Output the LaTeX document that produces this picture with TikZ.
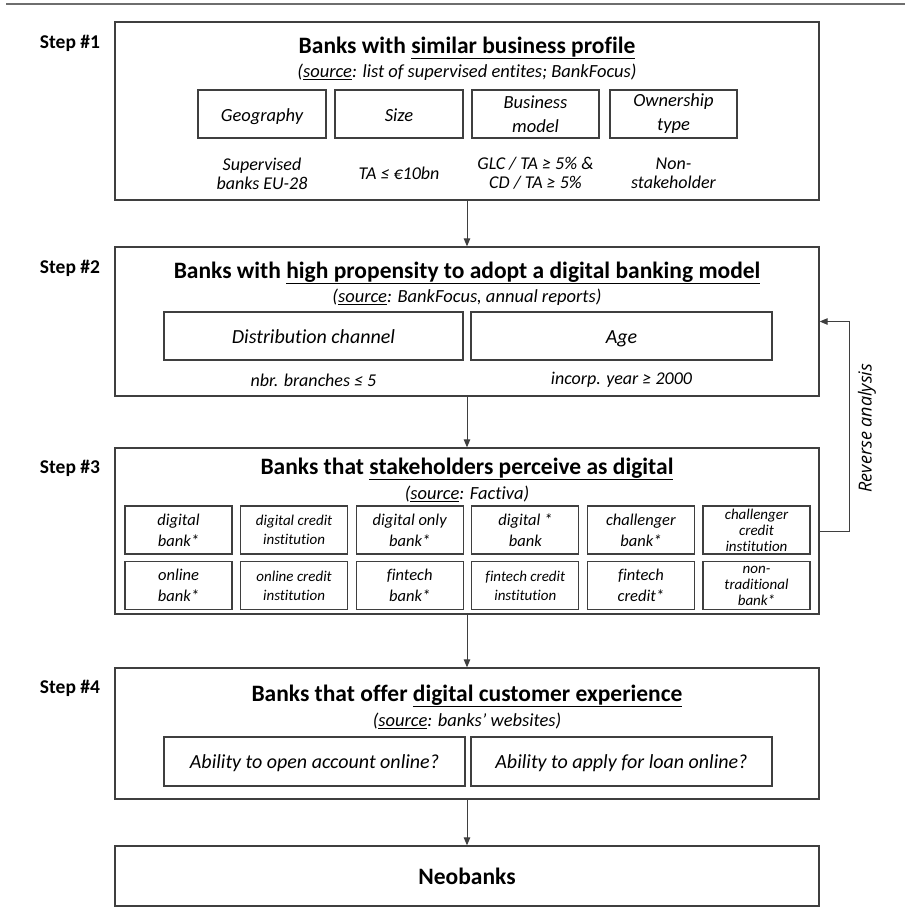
\documentclass[tikz,border=0pt]{standalone}
\usepackage{fontspec}
\setmainfont{Carlito}[Ligatures=NoCommon]
\newfontfamily\revfont{Open Sans}
\usetikzlibrary{arrows.meta}
\definecolor{boxgray}{HTML}{3F3F3F}
\definecolor{rulegray}{HTML}{6E6E6E}

\newcommand{\headfont}{\fontsize{23.5}{28}\selectfont\bfseries}
\newcommand{\srcfont}{\fontsize{18.5}{22}\selectfont\itshape}
\newcommand{\critfont}{\fontsize{18.5}{24}\selectfont\itshape}
\newcommand{\bigcritfont}{\fontsize{20}{24}\selectfont\itshape}
\newcommand{\valfont}{\fontsize{18}{19}\selectfont\itshape}
\newcommand{\cellfont}{\fontsize{16.5}{21}\selectfont\itshape}
\newcommand{\tightfont}{\fontsize{15}{19}\selectfont\itshape}
\newcommand{\threefont}{\fontsize{15}{16}\selectfont\itshape}

\begin{document}
\begin{tikzpicture}[x=1pt, y=-1pt, >={Triangle[length=8pt,width=6.5pt]},
    stepbox/.style={draw=boxgray, line width=1.3pt, minimum width=704pt, inner sep=0pt},
    critbox/.style={draw=boxgray, line width=1.1pt, inner sep=0pt, align=center, font=\critfont},
    oneline/.style={text height=17pt, text depth=3pt},
    cellbox/.style={draw=boxgray, line width=1.1pt, inner sep=0pt, align=center,
      minimum width=107pt, minimum height=48pt},
    crittext/.style={align=center, font=\valfont, inner sep=0pt},
    steplabel/.style={font=\fontsize{19.5}{22}\selectfont\bfseries, inner sep=0pt},
    headline/.style={font=\headfont, inner sep=0pt},
    srcline/.style={font=\srcfont, inner sep=0pt},
    flow/.style={draw=boxgray, line width=1pt, ->}]
  \useasboundingbox (0,0) rectangle (911,921);
  \draw[rulegray, line width=2pt] (6,4) -- (905,4);

  % step 1
  \node[steplabel] (lbl1) at (70,43) {Step \#1};
  \node[stepbox, minimum height=178pt] (s1) at (467,111) {};
  \node[headline] (t1) at (467,48) {Banks with \underline{similar business profile}};
  \node[srcline] (src1) at (467,72) {(\underline{source}: list of supervised entites; BankFocus)};
  \node[critbox, oneline, minimum width=128pt, minimum height=48pt] (geo) at (262,114) {Geography};
  \node[critbox, oneline, minimum width=128pt, minimum height=48pt] (size) at (399,114) {Size};
  \node[critbox, minimum width=127pt, minimum height=48pt] (bmod) at (535.5,114) {Business\\model};
  \node[critbox, minimum width=127pt, minimum height=48pt] (own) at (673.5,114) {Ownership\\type};
  \node[crittext] (geoval) at (262,173.5) {Supervised\\banks EU-28};
  \node[crittext] (sizeval) at (399,173.5) {TA ≤ €10bn};
  \node[crittext] (bmodval) at (535.5,173.5) {GLC / TA ≥ 5\% \&\\CD / TA ≥ 5\%};
  \node[crittext] (ownval) at (673.5,173.5) {Non-\\stakeholder};

  % step 2
  \node[steplabel] (lbl2) at (70,268) {Step \#2};
  \node[stepbox, minimum height=149pt] (s2) at (467,321.5) {};
  \node[headline] (t2) at (467,273) {Banks with \underline{high propensity to adopt a digital banking model}};
  \node[srcline] (src2) at (467,297) {(\underline{source}: BankFocus, annual reports)};
  \node[critbox, oneline, font=\bigcritfont, minimum width=299pt, minimum height=48pt] (dist) at (313.5,336) {Distribution channel};
  \node[critbox, oneline, font=\bigcritfont, minimum width=301pt, minimum height=48pt] (age) at (621.5,336) {Age};
  \node[crittext] (distval) at (313.5,380) {nbr. branches ≤ 5};
  \node[crittext] (ageval) at (621.5,380) {incorp. year ≥ 2000};

  % step 3
  \node[steplabel] (lbl3) at (70,468) {Step \#3};
  \node[stepbox, minimum height=166pt] (s3) at (467,531) {};
  \node[headline] (t3) at (467,469) {Banks that \underline{stakeholders perceive as digital}};
  \node[srcline] (src3) at (467,494) {(\underline{source}: Factiva)};
  \foreach \upper/\ufont/\lower/\lfont [count=\i] in {
      {digital\\bank*}/\cellfont/{online\\bank*}/\cellfont,
      {digital credit\\institution}/\tightfont/{online credit\\institution}/\tightfont,
      {digital only\\bank*}/\cellfont/{fintech\\bank*}/\cellfont,
      {digital *\\bank}/\cellfont/{fintech credit\\institution}/\tightfont,
      {challenger\\bank*}/\cellfont/{fintech\\credit*}/\cellfont,
      {challenger\\credit\\institution}/\threefont/{non-\\traditional\\bank*}/\threefont} {
    \node[cellbox, font=\ufont] (a\i) at ({178.5+115.6*(\i-1)},530) {\upper};
    \node[cellbox, font=\lfont] (b\i) at ({178.5+115.6*(\i-1)},585.5) {\lower};
  }

  % step 4
  \node[steplabel] (lbl4) at (70,688) {Step \#4};
  \node[stepbox, minimum height=131pt] (s4) at (467,733.5) {};
  \node[headline] (t4) at (467,696) {Banks that offer \underline{digital customer experience}};
  \node[srcline] (src4) at (467,721) {(\underline{source}: banks’ websites)};
  \node[critbox, oneline, font=\bigcritfont, minimum width=301pt, minimum height=49pt] (acct) at (314.5,761.5) {Ability to open account online?};
  \node[critbox, oneline, font=\bigcritfont, minimum width=301pt, minimum height=49pt] (loan) at (621.5,761.5) {Ability to apply for loan online?};

  % result
  \node[stepbox, minimum height=60pt, font=\headfont] (s5) at (467,876) {Neobanks};

  \draw[flow] (s1) -- (s2);
  \draw[flow] (s2) -- (s3);
  \draw[flow] (s3) -- (s4);
  \draw[flow] (s4) -- (s5);

  % reverse analysis loop
  \coordinate (rv) at (849,531);
  \draw[flow] (s3.east) -- (rv) |- (s2.east);
  \node[rotate=90, font=\revfont\itshape\fontsize{18}{20}\selectfont, inner sep=0pt] (revlbl) at (867,428) {Reverse analysis};
\end{tikzpicture}
\end{document}
